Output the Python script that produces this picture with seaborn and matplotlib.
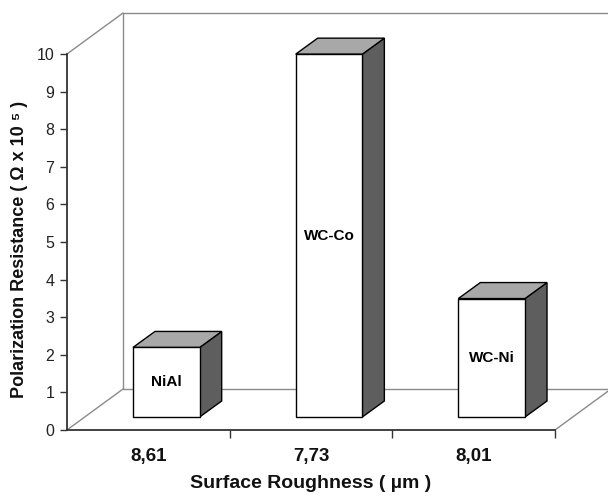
import matplotlib
matplotlib.use("Agg")
import matplotlib.pyplot as plt
from matplotlib.patches import Polygon
from matplotlib.lines import Line2D
import seaborn as sns
import pandas as pd

# ---- data ----
coatings = ["NiAl", "WC-Co", "WC-Ni"]
roughness_labels = ["8,61", "7,73", "8,01"]
resistance = [1.85, 9.65, 3.15]
y_ticks = [0, 1, 2, 3, 4, 5, 6, 7, 8, 9, 10]

sns.set_theme(style="white")
plt.rcParams['font.family'] = ['Liberation Sans', 'DejaVu Sans']

FW, FH = 608, 500
fig = plt.figure(figsize=(FW / 100, FH / 100), dpi=100)
L, B, W, H = 67 / FW, 70 / FH, 488 / FW, 376 / FH
ax = fig.add_axes([L, B, W, H])
# bars sit a bit back in the depth of the floor
ax_b = fig.add_axes([L + 18 / FW, B + 13 / FH, W, H])

XMIN, XMAX, YMIN, YMAX = -0.5, 2.5, 0, 10
px_x = (W * FW) / (XMAX - XMIN)
px_y = (H * FH) / (YMAX - YMIN)

df = pd.DataFrame({"roughness": roughness_labels, "resistance": resistance,
                   "coating": coatings})

sns.barplot(data=df, x="roughness", y="resistance", ax=ax_b, color="white",
            saturation=1, edgecolor="black", linewidth=1.0, width=0.41,
            errorbar=None, zorder=3)
ax_b.set_xlim(XMIN, XMAX)
ax_b.set_ylim(YMIN, YMAX)
ax_b.patch.set_alpha(0)
ax_b.set_axis_off()

# 3D faces of bars
ddx, ddy = 22 / px_x, 16 / px_y
for p, name in zip(list(ax_b.patches), coatings):
    p.set_clip_on(False)
    x0, w, h = p.get_x(), p.get_width(), p.get_height()
    side = Polygon([(x0 + w, 0), (x0 + w + ddx, ddy), (x0 + w + ddx, h + ddy), (x0 + w, h)],
                   closed=True, facecolor="#5e5e5e", edgecolor="black", lw=1.0,
                   clip_on=False, zorder=2)
    top = Polygon([(x0, h), (x0 + ddx, h + ddy), (x0 + w + ddx, h + ddy), (x0 + w, h)],
                  closed=True, facecolor="#a8a8a8", edgecolor="black", lw=1.0,
                  clip_on=False, zorder=2)
    ax_b.add_patch(side)
    ax_b.add_patch(top)
    ax_b.text(x0 + w / 2, h / 2, name, ha="center", va="center",
              fontsize=11, fontweight="bold", color="black", zorder=4)

# main axes
ax.set_xlim(XMIN, XMAX)
ax.set_ylim(YMIN, YMAX)
ax.patch.set_alpha(0)
for s in ["top", "right"]:
    ax.spines[s].set_visible(False)
ax.spines["left"].set_color("#333333")
ax.spines["bottom"].set_color("#333333")
ax.spines["left"].set_linewidth(1.3)
ax.spines["bottom"].set_linewidth(1.3)

ax.set_yticks(y_ticks)
ax.set_yticklabels([str(t) for t in y_ticks], fontsize=11.5, color="#222222")
ax.tick_params(axis="y", direction="out", length=5, width=1, color="#333333", pad=4, left=True)
ax.set_xticks(range(len(roughness_labels)))
ax.set_xticklabels(roughness_labels, fontsize=13.5, fontweight="bold", color="#111111")
ax.tick_params(axis="x", which="major", length=0, pad=13, bottom=True)
ax.set_xticks([0.5, 1.5, 2.5], minor=True)
ax.tick_params(axis="x", which="minor", direction="out", length=6, width=1,
               color="#333333", bottom=True)

# walls and floor
Dx, Dy = 56 / px_x, 41 / px_y
xr = XMAX + (FW - 555 + 5) / px_x
wall = dict(color="#8a8a8a", lw=1.0, clip_on=False, zorder=1)
segs = [
    ((XMIN, XMIN + Dx), (YMAX, YMAX + Dy)),
    ((XMIN + Dx, xr), (YMAX + Dy, YMAX + Dy)),
    ((XMIN + Dx, XMIN + Dx), (Dy, YMAX + Dy)),
    ((XMIN, XMIN + Dx), (0, Dy)),
    ((XMIN + Dx, xr), (Dy, Dy)),
    ((XMAX, XMAX + Dx), (0, Dy)),
]
for xs, ys in segs:
    ax.add_line(Line2D(xs, ys, **wall))

ax.set_xlabel("Surface Roughness ( µm )", fontsize=14, fontweight="bold",
              color="#111111", labelpad=7)
ax.set_ylabel("Polarization Resistance ( Ω x 10 ⁵ )", fontsize=13,
              fontweight="bold", color="#111111")
ax.yaxis.set_label_coords(-(67 - 28) / 488, 0.48)

fig.savefig("out.png", dpi=100)
